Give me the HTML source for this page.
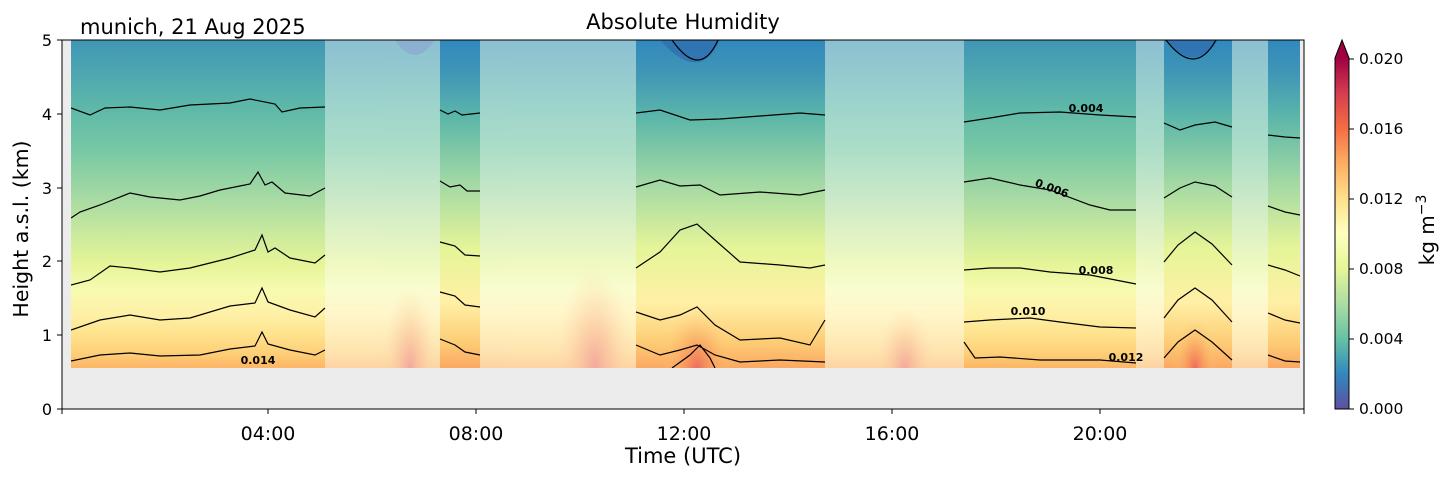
<!DOCTYPE html>
<html><head><meta charset="utf-8"><style>
body{margin:0;background:#fff;}
svg text{font-family:"DejaVu Sans","Liberation Sans",sans-serif;}
</style></head><body>
<svg width="1454" height="478" xmlns="http://www.w3.org/2000/svg">
<defs>
<clipPath id="clip"><rect x="71" y="40" width="1229" height="328"/></clipPath>
<linearGradient id="g1" gradientUnits="userSpaceOnUse" x1="0" y1="40" x2="0" y2="368">
<stop offset="0" stop-color="#3f96b6"/>
<stop offset="0.2" stop-color="#5db7a9"/>
<stop offset="0.337" stop-color="#77c8a4"/>
<stop offset="0.473" stop-color="#a4d9a4"/>
<stop offset="0.58" stop-color="#c7e89e"/>
<stop offset="0.686" stop-color="#e6f598"/>
<stop offset="0.762" stop-color="#f6fbb0"/>
<stop offset="0.838" stop-color="#fff0a6"/>
<stop offset="0.9" stop-color="#fee28c"/>
<stop offset="0.96" stop-color="#fdcd76"/>
<stop offset="1" stop-color="#fdb566"/>
</linearGradient>
<linearGradient id="g2" gradientUnits="userSpaceOnUse" x1="0" y1="40" x2="0" y2="368">
<stop offset="0" stop-color="#3288bd"/>
<stop offset="0.1" stop-color="#3f96b6"/>
<stop offset="0.24" stop-color="#5db7a9"/>
<stop offset="0.44" stop-color="#a4d9a4"/>
<stop offset="0.64" stop-color="#e6f598"/>
<stop offset="0.8" stop-color="#fff0a6"/>
<stop offset="0.92" stop-color="#fdcd76"/>
<stop offset="1" stop-color="#fba862"/>
</linearGradient>
<linearGradient id="cb" x1="0" y1="1" x2="0" y2="0">
<stop offset="0" stop-color="#5e4fa2"/>
<stop offset="0.1" stop-color="#3288bd"/>
<stop offset="0.2" stop-color="#66c2a5"/>
<stop offset="0.3" stop-color="#abdda4"/>
<stop offset="0.4" stop-color="#e6f598"/>
<stop offset="0.5" stop-color="#ffffbf"/>
<stop offset="0.6" stop-color="#fee08b"/>
<stop offset="0.7" stop-color="#fdae61"/>
<stop offset="0.8" stop-color="#f46d43"/>
<stop offset="0.9" stop-color="#d53e4f"/>
<stop offset="1" stop-color="#9e0142"/>
</linearGradient>
<radialGradient id="red" cx="0.5" cy="0.5" r="0.5">
<stop offset="0" stop-color="#ec6a5a" stop-opacity="0.95"/>
<stop offset="0.45" stop-color="#f99a5c" stop-opacity="0.6"/>
<stop offset="1" stop-color="#fdcd76" stop-opacity="0"/>
</radialGradient>
</defs>
<rect x="62" y="40" width="1242" height="369" fill="#ececec"/>
<g clip-path="url(#clip)">
<rect x="71" y="40" width="1229" height="328" fill="url(#g1)"/>
<rect x="636" y="40" width="189" height="328" fill="url(#g2)"/>
<rect x="1164" y="40" width="68" height="328" fill="url(#g2)"/>
<rect x="440" y="40" width="40" height="328" fill="url(#g2)"/>
<rect x="1268" y="40" width="32" height="328" fill="url(#g2)"/>
<ellipse cx="697" cy="368" rx="35" ry="60" fill="url(#red)"/>
<ellipse cx="1195" cy="368" rx="22" ry="50" fill="url(#red)"/>
<ellipse cx="410" cy="368" rx="28" ry="80" fill="url(#red)"/>
<ellipse cx="595" cy="368" rx="40" ry="100" fill="url(#red)"/>
<ellipse cx="905" cy="368" rx="30" ry="60" fill="url(#red)"/>
<path d="M660,40 Q700,85 720,40Z" fill="#2f6fb0" opacity="0.8"/>
<path d="M1165,40 Q1195,75 1218,40Z" fill="#2f6fb0" opacity="0.8"/>
<path d="M395,40 Q415,70 435,40Z" fill="#3f6db0" opacity="0.7"/>
<g fill="#ffffff" opacity="0.4">
<rect x="325" y="40" width="115" height="328"/>
<rect x="480" y="40" width="156" height="328"/>
<rect x="825" y="40" width="139" height="328"/>
<rect x="1136" y="40" width="28" height="328"/>
<rect x="1232" y="40" width="36" height="328"/>
</g>
<g fill="none" stroke="#000" stroke-width="1.2">
<path d="M71,108 L90,115 L105,108 L130,107 L160,110 L190,105 L230,103 L250,99 L275,104 L282,112 L300,108 L325,107"/>
<path d="M71,218 L80,212 L100,205 L130,193 L150,197 L180,200 L200,196 L220,190 L250,184 L258,172 L265,185 L272,182 L285,193 L310,196 L325,188"/>
<path d="M71,285 L90,280 L110,266 L130,268 L160,272 L190,268 L230,258 L255,250 L262,235 L268,252 L275,248 L290,258 L315,263 L325,255"/>
<path d="M71,330 L100,320 L130,315 L160,320 L190,318 L230,306 L255,303 L262,288 L268,302 L290,310 L315,317 L325,308"/>
<path d="M71,361 L100,355 L130,353 L160,356 L200,355 L230,349 L255,346 L262,332 L268,344 L290,350 L315,355 L325,350"/>
<path d="M440,110 L448,114 L455,111 L462,115 L480,113"/>
<path d="M440,181 L450,187 L460,185 L467,191 L480,191"/>
<path d="M440,242 L455,246 L465,255 L480,256"/>
<path d="M440,292 L455,296 L465,305 L480,307"/>
<path d="M440,339 L455,345 L465,352 L480,355"/>
<path d="M636,113 L660,110 L690,120 L720,119 L760,116 L800,113 L825,115"/>
<path d="M636,187 L660,180 L680,186 L700,185 L720,195 L760,192 L800,195 L825,190"/>
<path d="M636,268 L660,252 L680,230 L697,224 L715,240 L740,262 L780,265 L810,268 L825,265"/>
<path d="M636,312 L660,320 L680,315 L697,307 L715,325 L740,340 L780,338 L810,345 L825,320"/>
<path d="M636,345 L660,355 L680,350 L697,345 L715,355 L740,362 L780,360 L825,362"/>
<path d="M672,368 L690,355 L700,345 L710,358 L715,368"/>
<path d="M672,40 Q700,80 718,40"/>
<path d="M964,122 L990,118 L1020,113 L1060,112 L1100,115 L1136,117"/>
<path d="M964,182 L990,178 L1020,185 L1050,190 L1090,205 L1110,210 L1136,210"/>
<path d="M964,270 L990,268 L1020,268 L1050,272 L1090,275 L1136,284"/>
<path d="M964,322 L990,320 L1030,318 L1060,322 L1100,327 L1136,328"/>
<path d="M964,342 L975,358 L1000,357 L1040,360 L1100,360 L1136,363"/>
<path d="M1164,123 L1180,130 L1195,125 L1215,122 L1232,127"/>
<path d="M1164,198 L1180,188 L1195,182 L1215,186 L1232,197"/>
<path d="M1164,262 L1178,245 L1195,232 L1212,244 L1232,265"/>
<path d="M1164,318 L1178,300 L1195,288 L1212,300 L1232,322"/>
<path d="M1164,358 L1178,342 L1195,330 L1212,342 L1232,360"/>
<path d="M1166,40 Q1195,78 1216,40"/>
<path d="M1268,135 L1285,137 L1300,138"/>
<path d="M1268,206 L1285,212 L1300,215"/>
<path d="M1268,265 L1285,270 L1300,276"/>
<path d="M1268,313 L1285,320 L1300,323"/>
<path d="M1268,355 L1285,361 L1300,362"/>
</g>
</g>
<g font-size="11" font-weight="bold" fill="#000">
<text x="258" y="364" text-anchor="middle">0.014</text>
<text x="1086" y="112" text-anchor="middle">0.004</text>
<text x="1052" y="192" text-anchor="middle" transform="rotate(20 1052 188)">0.006</text>
<text x="1096" y="274" text-anchor="middle">0.008</text>
<text x="1028" y="315" text-anchor="middle">0.010</text>
<text x="1126" y="361" text-anchor="middle">0.012</text>
</g>
<rect x="62" y="40" width="1242" height="369" fill="none" stroke="#000" stroke-width="1"/>
<g stroke="#000" stroke-width="1">
<line x1="57" y1="409" x2="62" y2="409"/><line x1="57" y1="335" x2="62" y2="335"/>
<line x1="57" y1="261" x2="62" y2="261"/><line x1="57" y1="188" x2="62" y2="188"/>
<line x1="57" y1="114" x2="62" y2="114"/><line x1="57" y1="40" x2="62" y2="40"/>
<line x1="62" y1="409" x2="62" y2="414"/><line x1="268" y1="409" x2="268" y2="414"/>
<line x1="476" y1="409" x2="476" y2="414"/><line x1="684" y1="409" x2="684" y2="414"/>
<line x1="892" y1="409" x2="892" y2="414"/><line x1="1100" y1="409" x2="1100" y2="414"/>
<line x1="1304" y1="409" x2="1304" y2="414"/>
</g>
<g font-size="16" fill="#000" text-anchor="end">
<text x="52" y="415">0</text><text x="52" y="341">1</text><text x="52" y="267">2</text>
<text x="52" y="194">3</text><text x="52" y="120">4</text><text x="52" y="46">5</text>
</g>
<g font-size="19" fill="#000" text-anchor="middle">
<text x="268" y="440">04:00</text><text x="476" y="440">08:00</text><text x="684" y="440">12:00</text>
<text x="892" y="440">16:00</text><text x="1100" y="440">20:00</text>
</g>
<text x="683" y="463" font-size="21" text-anchor="middle">Time (UTC)</text>
<text x="28" y="229" font-size="20.5" text-anchor="middle" transform="rotate(-90 28 229)">Height a.s.l. (km)</text>
<text x="683" y="29" font-size="21" text-anchor="middle">Absolute Humidity</text>
<text x="80" y="34" font-size="21">munich, 21 Aug 2025</text>
<rect x="1335" y="58" width="14" height="351" fill="url(#cb)"/>
<polygon points="1335,58 1349,58 1342,40" fill="#9e0142"/>
<polygon points="1335,409 1335,58 1342,40 1349,58 1349,409" fill="none" stroke="#000" stroke-width="1"/>
<g stroke="#000"><line x1="1349" y1="409" x2="1354" y2="409"/><line x1="1349" y1="339" x2="1354" y2="339"/><line x1="1349" y1="269" x2="1354" y2="269"/><line x1="1349" y1="199" x2="1354" y2="199"/><line x1="1349" y1="129" x2="1354" y2="129"/><line x1="1349" y1="59" x2="1354" y2="59"/></g>
<g font-size="15.5" fill="#000">
<text x="1359" y="414">0.000</text><text x="1359" y="344">0.004</text><text x="1359" y="274">0.008</text>
<text x="1359" y="204">0.012</text><text x="1359" y="134">0.016</text><text x="1359" y="64">0.020</text>
</g>
<text x="1434" y="230" font-size="20" text-anchor="middle" transform="rotate(-90 1434 230)">kg m<tspan dy="-8" font-size="14">−3</tspan></text>
</svg>
</body></html>
